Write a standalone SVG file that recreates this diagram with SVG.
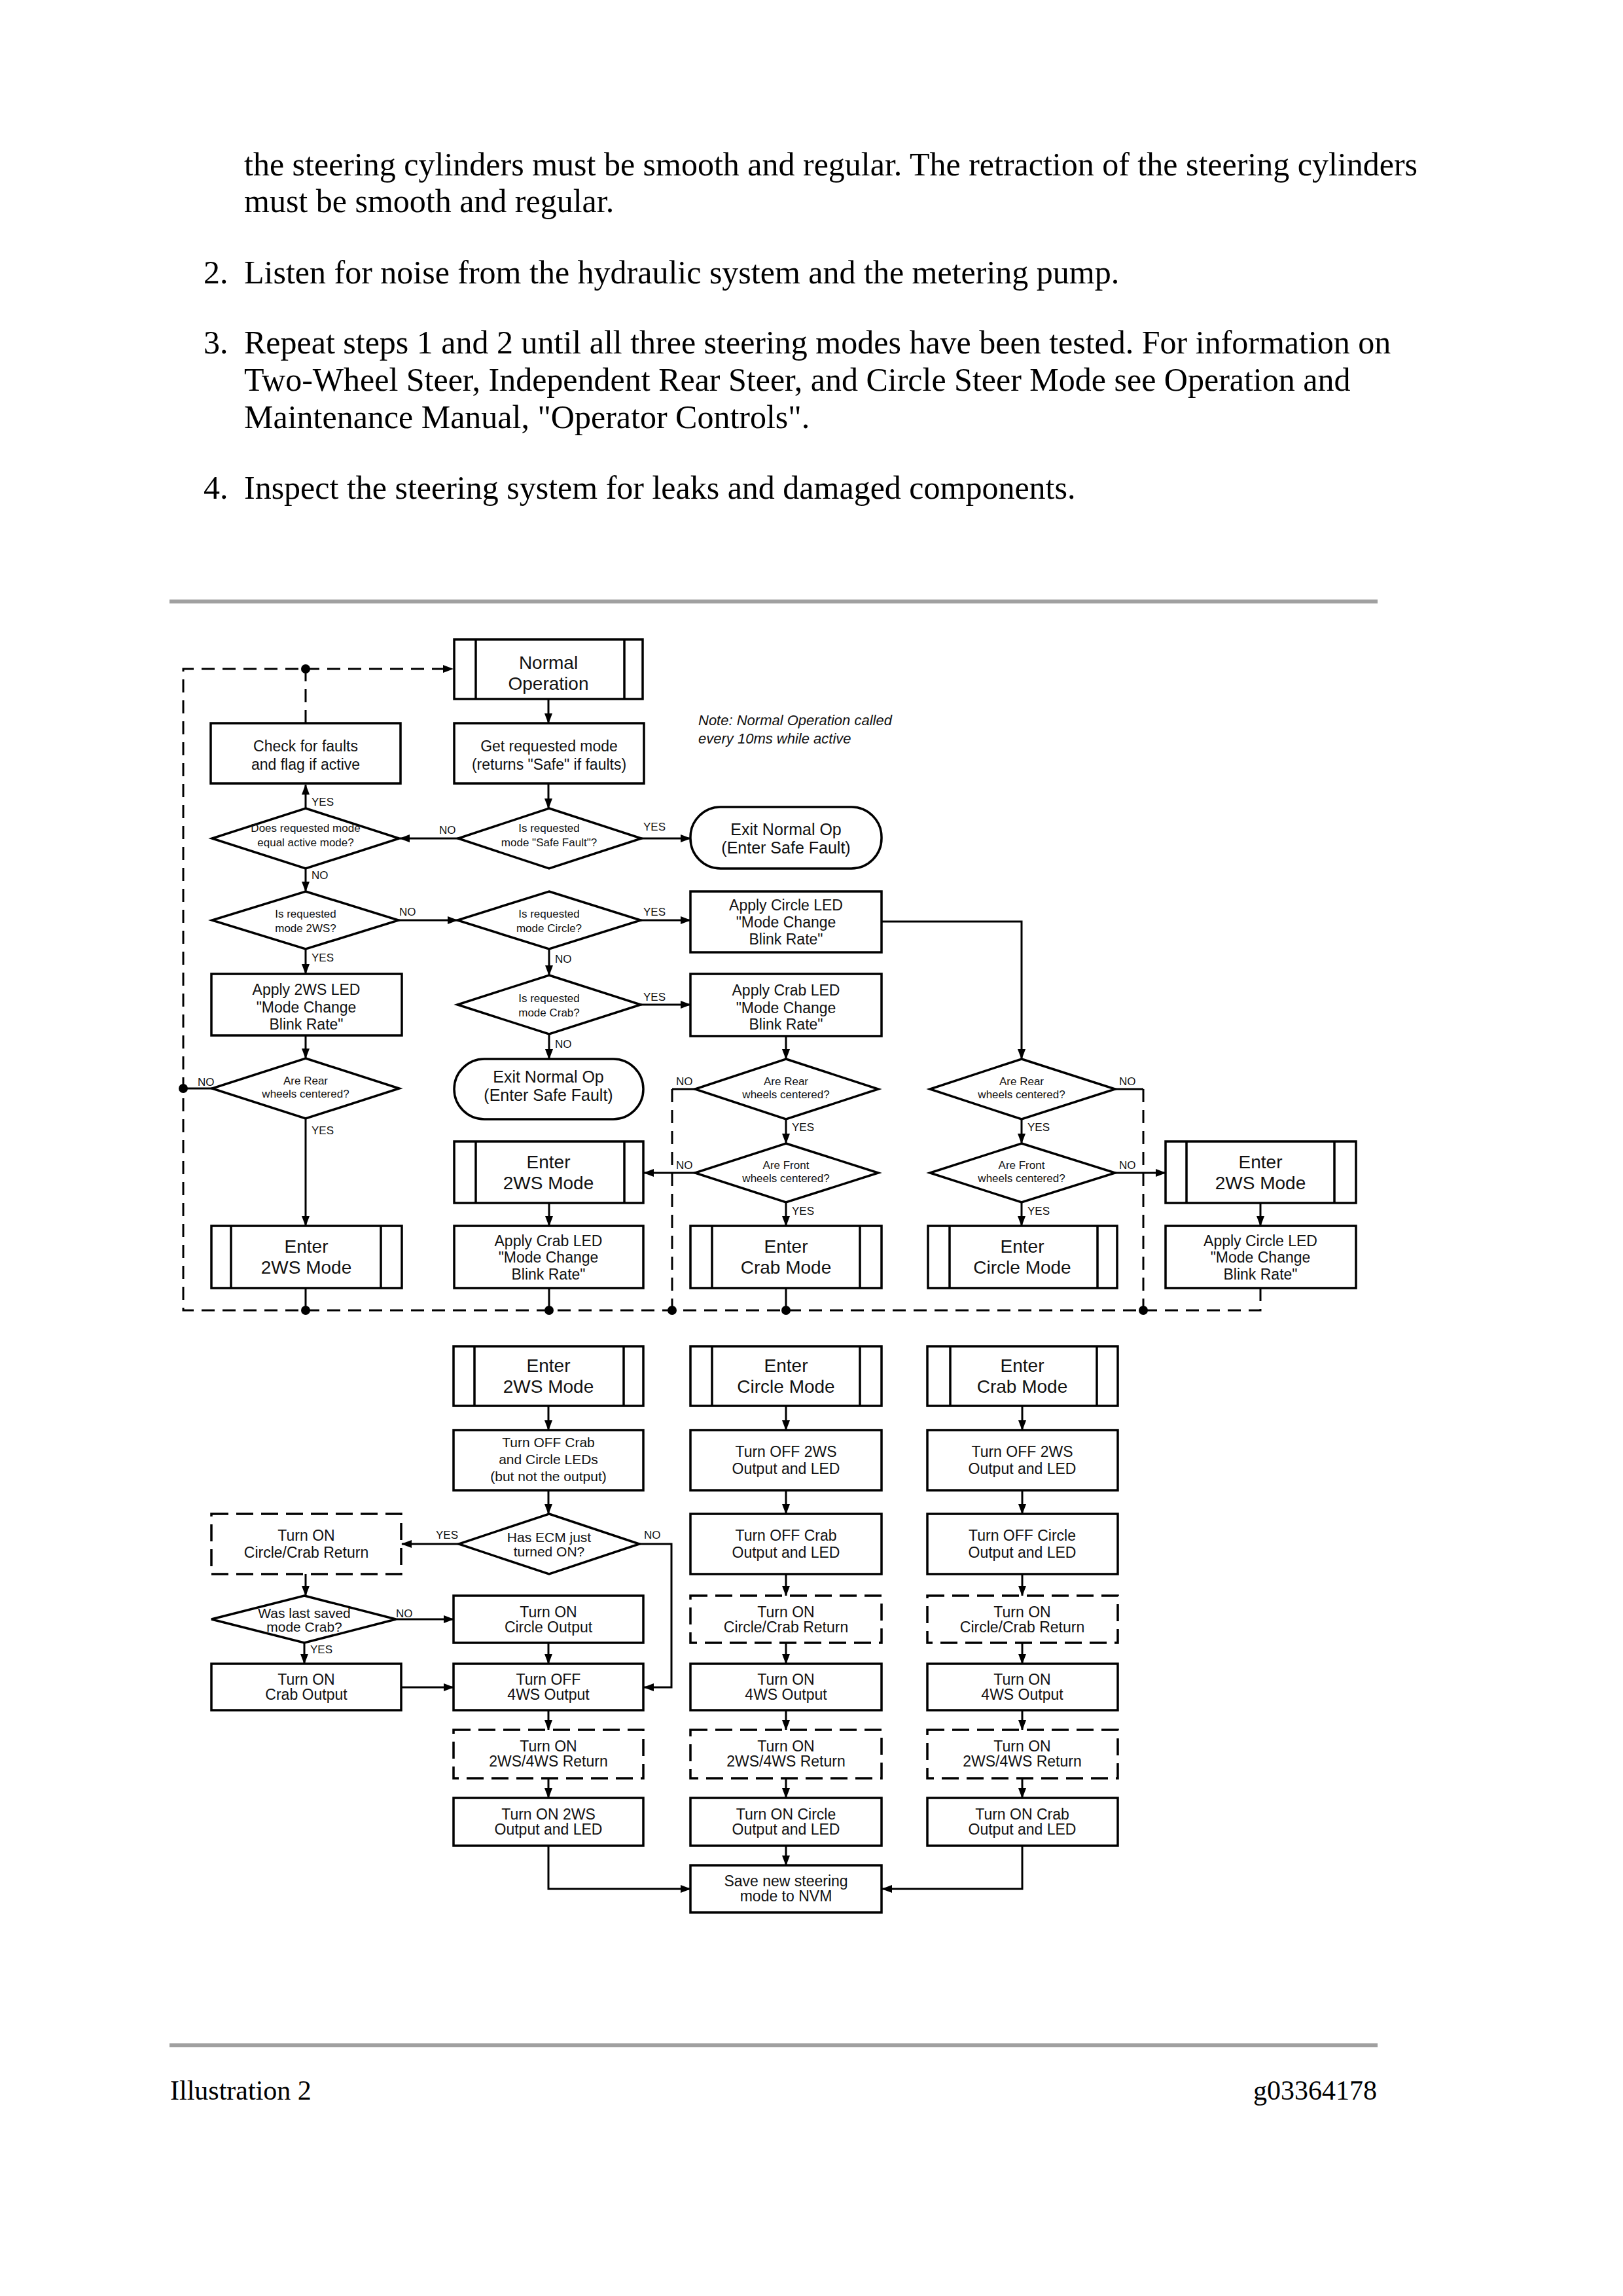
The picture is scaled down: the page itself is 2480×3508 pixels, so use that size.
<svg xmlns="http://www.w3.org/2000/svg" width="2480" height="3508" viewBox="0 0 2480 3508">
<defs>
<marker id="ah" markerWidth="16" markerHeight="14" refX="15" refY="7" orient="auto" markerUnits="userSpaceOnUse"><path d="M0,1 L16,7 L0,13 z" fill="#000"/></marker>
<style>
.page{font-family:"Liberation Serif","Times New Roman",serif;font-size:50px;fill:#000}
.foot{font-family:"Liberation Serif","Times New Roman",serif;font-size:42px;fill:#000}
.rule{fill:#a0a0a0}
.box{fill:#fff;stroke:#000;stroke-width:3.5}
.dbox{fill:#fff;stroke:#000;stroke-width:3.5;stroke-dasharray:26 12}
.in{stroke:#000;stroke-width:3.5}
.ln{fill:none;stroke:#000;stroke-width:3}
.dl{fill:none;stroke:#000;stroke-width:3;stroke-dasharray:20 12}
.dot{fill:#000}
text.t{font-family:"Liberation Sans",Arial,sans-serif;text-anchor:middle;fill:#111}
.f28{font-size:28px}.f25{font-size:25px}.f23{font-size:23px}.f21{font-size:21px}.f17{font-size:17px}
text.lab{font-family:"Liberation Sans",Arial,sans-serif;font-size:17px;fill:#111}
text.note{font-family:"Liberation Sans",Arial,sans-serif;font-size:22px;font-style:italic;fill:#111}
</style>
</defs>
<rect width="2480" height="3508" fill="#fff"/>

<g id="page-text">
<text class="page" x="373" y="268">the steering cylinders must be smooth and regular. The retraction of the steering cylinders</text>
<text class="page" x="373" y="324">must be smooth and regular.</text>
<text class="page" x="311" y="433">2.</text>
<text class="page" x="373" y="433">Listen for noise from the hydraulic system and the metering pump.</text>
<text class="page" x="311" y="540">3.</text>
<text class="page" x="373" y="540">Repeat steps 1 and 2 until all three steering modes have been tested. For information on</text>
<text class="page" x="373" y="597">Two-Wheel Steer, Independent Rear Steer, and Circle Steer Mode see Operation and</text>
<text class="page" x="373" y="654">Maintenance Manual, "Operator Controls".</text>
<text class="page" x="311" y="762">4.</text>
<text class="page" x="373" y="762">Inspect the steering system for leaks and damaged components.</text>
<rect class="rule" x="259" y="916" width="1846" height="6"/>
<rect class="rule" x="259" y="3122" width="1846" height="6"/>
<text class="foot" x="260" y="3208">Illustration 2</text>
<text class="foot" x="2104" y="3208" text-anchor="end">g03364178</text>
</g>

<g id="connectors">
<path class="dl" d="M1926 1968 V2002 H280 V1022 H692" marker-end="url(#ah)"/>
<path class="dl" d="M467 1105 V1022"/>
<path class="ln" d="M838 1068 V1105" marker-end="url(#ah)"/>
<path class="ln" d="M838 1198 V1235" marker-end="url(#ah)"/>
<path class="ln" d="M980 1281 H1055" marker-end="url(#ah)"/>
<path class="ln" d="M700 1281 H611" marker-end="url(#ah)"/>
<path class="ln" d="M467 1235 V1199" marker-end="url(#ah)"/>
<path class="ln" d="M467 1327 V1362" marker-end="url(#ah)"/>
<path class="ln" d="M609 1406 H699" marker-end="url(#ah)"/>
<path class="ln" d="M979 1406 H1055" marker-end="url(#ah)"/>
<path class="ln" d="M467 1450 V1488" marker-end="url(#ah)"/>
<path class="ln" d="M839 1450 V1490" marker-end="url(#ah)"/>
<path class="ln" d="M979 1535 H1055" marker-end="url(#ah)"/>
<path class="ln" d="M839 1580 V1618" marker-end="url(#ah)"/>
<path class="ln" d="M467 1582 V1617" marker-end="url(#ah)"/>
<path class="ln" d="M324 1663 H280"/>
<path class="ln" d="M467 1709 V1873" marker-end="url(#ah)"/>
<path class="ln" d="M467 1968 V2002"/>
<path class="ln" d="M839 1838 V1873" marker-end="url(#ah)"/>
<path class="ln" d="M839 1968 V2002"/>
<path class="ln" d="M1347 1408 H1561 V1618" marker-end="url(#ah)"/>
<path class="ln" d="M1201 1583 V1618" marker-end="url(#ah)"/>
<path class="ln" d="M1062 1664 H1027"/>
<path class="dl" d="M1027 1664 V2002"/>
<path class="ln" d="M1201 1710 V1747" marker-end="url(#ah)"/>
<path class="ln" d="M1062 1792 H984" marker-end="url(#ah)"/>
<path class="ln" d="M1201 1837 V1873" marker-end="url(#ah)"/>
<path class="ln" d="M1201 1968 V2002"/>
<path class="ln" d="M1561 1710 V1747" marker-end="url(#ah)"/>
<path class="ln" d="M1704 1664 H1747"/>
<path class="dl" d="M1747 1664 V2002"/>
<path class="ln" d="M1704 1792 H1781" marker-end="url(#ah)"/>
<path class="ln" d="M1561 1837 V1873" marker-end="url(#ah)"/>
<path class="ln" d="M1926 1838 V1873" marker-end="url(#ah)"/>
<circle class="dot" cx="467" cy="1022" r="7"/>
<circle class="dot" cx="280" cy="1663" r="7"/>
<circle class="dot" cx="467" cy="2002" r="7"/>
<circle class="dot" cx="839" cy="2002" r="7"/>
<circle class="dot" cx="1027" cy="2002" r="7"/>
<circle class="dot" cx="1201" cy="2002" r="7"/>
<circle class="dot" cx="1747" cy="2002" r="7"/>

<path class="ln" d="M838 2148 V2185" marker-end="url(#ah)"/>
<path class="ln" d="M838 2277 V2313" marker-end="url(#ah)"/>
<path class="ln" d="M701 2359 H614" marker-end="url(#ah)"/>
<path class="ln" d="M977 2359 H1026 V2578 H984" marker-end="url(#ah)"/>
<path class="ln" d="M467 2405 V2438" marker-end="url(#ah)"/>
<path class="ln" d="M605 2474 H693" marker-end="url(#ah)"/>
<path class="ln" d="M465 2510 V2542" marker-end="url(#ah)"/>
<path class="ln" d="M613 2578 H693" marker-end="url(#ah)"/>
<path class="ln" d="M838 2510 V2542" marker-end="url(#ah)"/>
<path class="ln" d="M838 2613 V2643" marker-end="url(#ah)"/>
<path class="ln" d="M838 2717 V2747" marker-end="url(#ah)"/>
<path class="ln" d="M838 2820 V2886 H1055" marker-end="url(#ah)"/>
<path class="ln" d="M1201 2148 V2185" marker-end="url(#ah)"/>
<path class="ln" d="M1201 2277 V2313" marker-end="url(#ah)"/>
<path class="ln" d="M1201 2405 V2438" marker-end="url(#ah)"/>
<path class="ln" d="M1201 2510 V2542" marker-end="url(#ah)"/>
<path class="ln" d="M1201 2613 V2643" marker-end="url(#ah)"/>
<path class="ln" d="M1201 2717 V2747" marker-end="url(#ah)"/>
<path class="ln" d="M1201 2820 V2850" marker-end="url(#ah)"/>
<path class="ln" d="M1562 2148 V2185" marker-end="url(#ah)"/>
<path class="ln" d="M1562 2277 V2313" marker-end="url(#ah)"/>
<path class="ln" d="M1562 2405 V2438" marker-end="url(#ah)"/>
<path class="ln" d="M1562 2510 V2542" marker-end="url(#ah)"/>
<path class="ln" d="M1562 2613 V2643" marker-end="url(#ah)"/>
<path class="ln" d="M1562 2717 V2747" marker-end="url(#ah)"/>
<path class="ln" d="M1562 2820 V2886 H1348" marker-end="url(#ah)"/>

<text class="lab" x="476" y="1231">YES</text>
<text class="lab" x="671" y="1274">NO</text>
<text class="lab" x="983" y="1269">YES</text>
<text class="lab" x="476" y="1343">NO</text>
<text class="lab" x="610" y="1399">NO</text>
<text class="lab" x="983" y="1399">YES</text>
<text class="lab" x="476" y="1469">YES</text>
<text class="lab" x="848" y="1471">NO</text>
<text class="lab" x="983" y="1529">YES</text>
<text class="lab" x="848" y="1601">NO</text>
<text class="lab" x="302" y="1659">NO</text>
<text class="lab" x="476" y="1733">YES</text>
<text class="lab" x="1033" y="1658">NO</text>
<text class="lab" x="1210" y="1728">YES</text>
<text class="lab" x="1033" y="1786">NO</text>
<text class="lab" x="1210" y="1856">YES</text>
<text class="lab" x="1710" y="1658">NO</text>
<text class="lab" x="1570" y="1728">YES</text>
<text class="lab" x="1710" y="1786">NO</text>
<text class="lab" x="1570" y="1856">YES</text>
<text class="lab" x="666" y="2351">YES</text>
<text class="lab" x="984" y="2351">NO</text>
<text class="lab" x="605" y="2471">NO</text>
<text class="lab" x="474" y="2526">YES</text>
</g>

<g id="note"><text class="note" x="1067" y="1108">Note: Normal Operation called</text><text class="note" x="1067" y="1136">every 10ms while active</text></g>

<g id="normal-operation"><rect class="box" x="694" y="977" width="288" height="91"/><line class="in" x1="727" y1="977" x2="727" y2="1068"/><line class="in" x1="954" y1="977" x2="954" y2="1068"/><text class="t f28" x="838" y="1022">Normal</text><text class="t f28" x="838" y="1054">Operation</text></g>
<g id="check-faults"><rect class="box" x="322" y="1105" width="290" height="92"/><text class="t f23" x="467" y="1148">Check for faults</text><text class="t f23" x="467" y="1176">and flag if active</text></g>
<g id="get-mode"><rect class="box" x="694" y="1105" width="290" height="92"/><text class="t f23" x="839" y="1148">Get requested mode</text><text class="t f23" x="839" y="1176">(returns "Safe" if faults)</text></g>
<g id="d-equal"><polygon class="box" points="467,1235 610,1281 467,1327 324,1281"/><text class="t f17" x="467" y="1271">Does requested mode</text><text class="t f17" x="467" y="1293">equal active mode?</text></g>
<g id="d-safe"><polygon class="box" points="839,1235 980,1281 839,1327 700,1281"/><text class="t f17" x="839" y="1271">Is requested</text><text class="t f17" x="839" y="1293">mode "Safe Fault"?</text></g>
<g id="exit-1"><rect class="box" x="1055" y="1233" width="292" height="94" rx="46"/><text class="t f25" x="1201" y="1276">Exit Normal Op</text><text class="t f25" x="1201" y="1304">(Enter Safe Fault)</text></g>
<g id="d-2ws"><polygon class="box" points="467,1362 609,1406 467,1450 324,1406"/><text class="t f17" x="467" y="1402">Is requested</text><text class="t f17" x="467" y="1424">mode 2WS?</text></g>
<g id="d-circle"><polygon class="box" points="839,1362 979,1406 839,1450 699,1406"/><text class="t f17" x="839" y="1402">Is requested</text><text class="t f17" x="839" y="1424">mode Circle?</text></g>
<g id="apply-circle-1"><rect class="box" x="1055" y="1362" width="292" height="93"/><text class="t f23" x="1201" y="1391">Apply Circle LED</text><text class="t f23" x="1201" y="1417">"Mode Change</text><text class="t f23" x="1201" y="1443">Blink Rate"</text></g>
<g id="apply-2ws"><rect class="box" x="323" y="1488" width="291" height="94"/><text class="t f23" x="468" y="1520">Apply 2WS LED</text><text class="t f23" x="468" y="1547">"Mode Change</text><text class="t f23" x="468" y="1573">Blink Rate"</text></g>
<g id="d-crab"><polygon class="box" points="839,1490 979,1535 839,1580 699,1535"/><text class="t f17" x="839" y="1531">Is requested</text><text class="t f17" x="839" y="1553">mode Crab?</text></g>
<g id="apply-crab-1"><rect class="box" x="1055" y="1488" width="292" height="95"/><text class="t f23" x="1201" y="1521">Apply Crab LED</text><text class="t f23" x="1201" y="1548">"Mode Change</text><text class="t f23" x="1201" y="1573">Blink Rate"</text></g>
<g id="d-rear-l"><polygon class="box" points="467,1617 610,1663 467,1709 324,1663"/><text class="t f17" x="467" y="1657">Are Rear</text><text class="t f17" x="467" y="1677">wheels centered?</text></g>
<g id="exit-2"><rect class="box" x="694" y="1618" width="289" height="92" rx="46"/><text class="t f25" x="838" y="1654">Exit Normal Op</text><text class="t f25" x="838" y="1682">(Enter Safe Fault)</text></g>
<g id="enter-2ws-l"><rect class="box" x="323" y="1873" width="291" height="95"/><line class="in" x1="353" y1="1873" x2="353" y2="1968"/><line class="in" x1="582" y1="1873" x2="582" y2="1968"/><text class="t f28" x="468" y="1914">Enter</text><text class="t f28" x="468" y="1946">2WS Mode</text></g>
<g id="enter-2ws-m"><rect class="box" x="694" y="1744" width="289" height="94"/><line class="in" x1="727" y1="1744" x2="727" y2="1838"/><line class="in" x1="954" y1="1744" x2="954" y2="1838"/><text class="t f28" x="838" y="1785">Enter</text><text class="t f28" x="838" y="1817">2WS Mode</text></g>
<g id="apply-crab-2"><rect class="box" x="694" y="1873" width="289" height="95"/><text class="t f23" x="838" y="1904">Apply Crab LED</text><text class="t f23" x="838" y="1929">"Mode Change</text><text class="t f23" x="838" y="1955">Blink Rate"</text></g>
<g id="d-rear-c"><polygon class="box" points="1201,1618 1342,1664 1201,1710 1062,1664"/><text class="t f17" x="1201" y="1658">Are Rear</text><text class="t f17" x="1201" y="1678">wheels centered?</text></g>
<g id="d-front-c"><polygon class="box" points="1201,1747 1342,1792 1201,1837 1062,1792"/><text class="t f17" x="1201" y="1786">Are Front</text><text class="t f17" x="1201" y="1806">wheels centered?</text></g>
<g id="enter-crab-1"><rect class="box" x="1055" y="1873" width="292" height="95"/><line class="in" x1="1088" y1="1873" x2="1088" y2="1968"/><line class="in" x1="1314" y1="1873" x2="1314" y2="1968"/><text class="t f28" x="1201" y="1914">Enter</text><text class="t f28" x="1201" y="1946">Crab Mode</text></g>
<g id="d-rear-r"><polygon class="box" points="1561,1618 1704,1664 1561,1710 1421,1664"/><text class="t f17" x="1561" y="1658">Are Rear</text><text class="t f17" x="1561" y="1678">wheels centered?</text></g>
<g id="d-front-r"><polygon class="box" points="1561,1747 1704,1792 1561,1837 1421,1792"/><text class="t f17" x="1561" y="1786">Are Front</text><text class="t f17" x="1561" y="1806">wheels centered?</text></g>
<g id="enter-circle-1"><rect class="box" x="1418" y="1873" width="289" height="95"/><line class="in" x1="1451" y1="1873" x2="1451" y2="1968"/><line class="in" x1="1677" y1="1873" x2="1677" y2="1968"/><text class="t f28" x="1562" y="1914">Enter</text><text class="t f28" x="1562" y="1946">Circle Mode</text></g>
<g id="enter-2ws-r"><rect class="box" x="1781" y="1744" width="291" height="94"/><line class="in" x1="1813" y1="1744" x2="1813" y2="1838"/><line class="in" x1="2039" y1="1744" x2="2039" y2="1838"/><text class="t f28" x="1926" y="1785">Enter</text><text class="t f28" x="1926" y="1817">2WS Mode</text></g>
<g id="apply-circle-2"><rect class="box" x="1781" y="1873" width="291" height="95"/><text class="t f23" x="1926" y="1904">Apply Circle LED</text><text class="t f23" x="1926" y="1929">"Mode Change</text><text class="t f23" x="1926" y="1955">Blink Rate"</text></g>

<g id="b-enter-2ws"><rect class="box" x="693" y="2057" width="290" height="91"/><line class="in" x1="725" y1="2057" x2="725" y2="2148"/><line class="in" x1="953" y1="2057" x2="953" y2="2148"/><text class="t f28" x="838" y="2096">Enter</text><text class="t f28" x="838" y="2128">2WS Mode</text></g>
<g id="b-off-leds"><rect class="box" x="693" y="2185" width="290" height="92"/><text class="t f21" x="838" y="2211">Turn OFF Crab</text><text class="t f21" x="838" y="2237">and Circle LEDs</text><text class="t f21" x="838" y="2263">(but not the output)</text></g>
<g id="b-d-ecm"><polygon class="box" points="839,2313 977,2359 839,2405 701,2359"/><text class="t f21" x="839" y="2356">Has ECM just</text><text class="t f21" x="839" y="2378">turned ON?</text></g>
<g id="b-return-l"><rect class="dbox" x="323" y="2313" width="290" height="92"/><text class="t f23" x="468" y="2354">Turn ON</text><text class="t f23" x="468" y="2380">Circle/Crab Return</text></g>
<g id="b-d-saved"><polygon class="box" points="465,2438 605,2474 465,2510 323,2474"/><text class="t f21" x="465" y="2472">Was last saved</text><text class="t f21" x="465" y="2493">mode Crab?</text></g>
<g id="b-on-circle"><rect class="box" x="693" y="2438" width="290" height="72"/><text class="t f23" x="838" y="2471">Turn ON</text><text class="t f23" x="838" y="2494">Circle Output</text></g>
<g id="b-on-crab"><rect class="box" x="323" y="2542" width="290" height="71"/><text class="t f23" x="468" y="2574">Turn ON</text><text class="t f23" x="468" y="2597">Crab Output</text></g>
<g id="b-off-4ws"><rect class="box" x="693" y="2542" width="290" height="71"/><text class="t f23" x="838" y="2574">Turn OFF</text><text class="t f23" x="838" y="2597">4WS Output</text></g>
<g id="b-ret-2ws-1"><rect class="dbox" x="693" y="2643" width="290" height="74"/><text class="t f23" x="838" y="2676">Turn ON</text><text class="t f23" x="838" y="2699">2WS/4WS Return</text></g>
<g id="b-on-2ws"><rect class="box" x="693" y="2747" width="290" height="73"/><text class="t f23" x="838" y="2780">Turn ON 2WS</text><text class="t f23" x="838" y="2803">Output and LED</text></g>

<g id="b-enter-circle"><rect class="box" x="1055" y="2057" width="292" height="91"/><line class="in" x1="1088" y1="2057" x2="1088" y2="2148"/><line class="in" x1="1314" y1="2057" x2="1314" y2="2148"/><text class="t f28" x="1201" y="2096">Enter</text><text class="t f28" x="1201" y="2128">Circle Mode</text></g>
<g id="b-off-2ws-c"><rect class="box" x="1055" y="2185" width="292" height="92"/><text class="t f23" x="1201" y="2226">Turn OFF 2WS</text><text class="t f23" x="1201" y="2252">Output and LED</text></g>
<g id="b-off-crab"><rect class="box" x="1055" y="2313" width="292" height="92"/><text class="t f23" x="1201" y="2354">Turn OFF Crab</text><text class="t f23" x="1201" y="2380">Output and LED</text></g>
<g id="b-return-c"><rect class="dbox" x="1055" y="2438" width="292" height="72"/><text class="t f23" x="1201" y="2471">Turn ON</text><text class="t f23" x="1201" y="2494">Circle/Crab Return</text></g>
<g id="b-on-4ws-c"><rect class="box" x="1055" y="2542" width="292" height="71"/><text class="t f23" x="1201" y="2574">Turn ON</text><text class="t f23" x="1201" y="2597">4WS Output</text></g>
<g id="b-ret-2ws-c"><rect class="dbox" x="1055" y="2643" width="292" height="74"/><text class="t f23" x="1201" y="2676">Turn ON</text><text class="t f23" x="1201" y="2699">2WS/4WS Return</text></g>
<g id="b-on-circle-led"><rect class="box" x="1055" y="2747" width="292" height="73"/><text class="t f23" x="1201" y="2780">Turn ON Circle</text><text class="t f23" x="1201" y="2803">Output and LED</text></g>
<g id="b-save"><rect class="box" x="1055" y="2850" width="292" height="72"/><text class="t f23" x="1201" y="2882">Save new steering</text><text class="t f23" x="1201" y="2905">mode to NVM</text></g>

<g id="b-enter-crab"><rect class="box" x="1417" y="2057" width="291" height="91"/><line class="in" x1="1452" y1="2057" x2="1452" y2="2148"/><line class="in" x1="1676" y1="2057" x2="1676" y2="2148"/><text class="t f28" x="1562" y="2096">Enter</text><text class="t f28" x="1562" y="2128">Crab Mode</text></g>
<g id="b-off-2ws-r"><rect class="box" x="1417" y="2185" width="291" height="92"/><text class="t f23" x="1562" y="2226">Turn OFF 2WS</text><text class="t f23" x="1562" y="2252">Output and LED</text></g>
<g id="b-off-circle"><rect class="box" x="1417" y="2313" width="291" height="92"/><text class="t f23" x="1562" y="2354">Turn OFF Circle</text><text class="t f23" x="1562" y="2380">Output and LED</text></g>
<g id="b-return-r"><rect class="dbox" x="1417" y="2438" width="291" height="72"/><text class="t f23" x="1562" y="2471">Turn ON</text><text class="t f23" x="1562" y="2494">Circle/Crab Return</text></g>
<g id="b-on-4ws-r"><rect class="box" x="1417" y="2542" width="291" height="71"/><text class="t f23" x="1562" y="2574">Turn ON</text><text class="t f23" x="1562" y="2597">4WS Output</text></g>
<g id="b-ret-2ws-r"><rect class="dbox" x="1417" y="2643" width="291" height="74"/><text class="t f23" x="1562" y="2676">Turn ON</text><text class="t f23" x="1562" y="2699">2WS/4WS Return</text></g>
<g id="b-on-crab-led"><rect class="box" x="1417" y="2747" width="291" height="73"/><text class="t f23" x="1562" y="2780">Turn ON Crab</text><text class="t f23" x="1562" y="2803">Output and LED</text></g>
</svg>
